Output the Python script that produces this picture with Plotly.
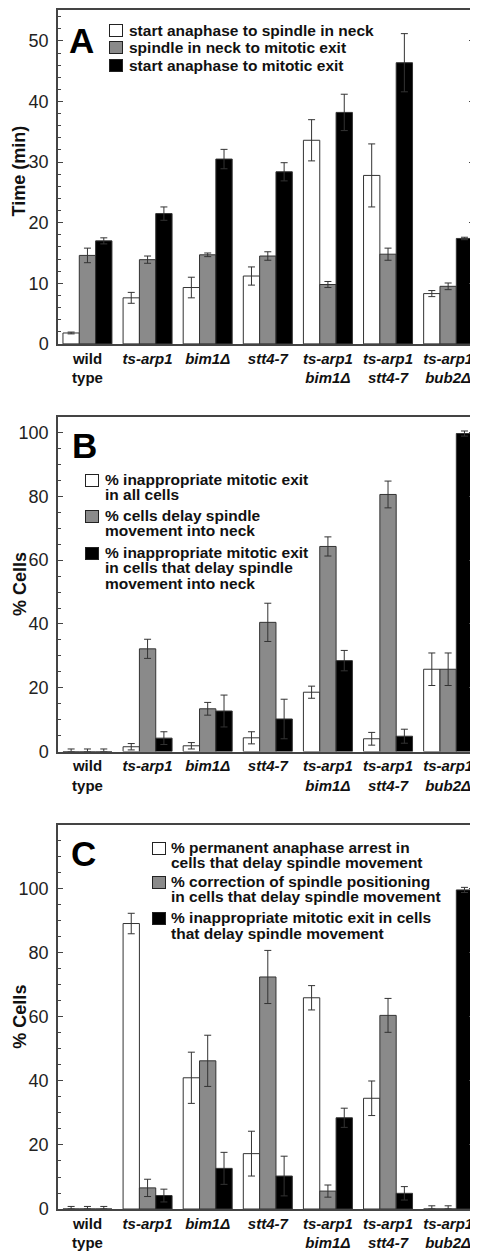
import plotly.graph_objects as go

# ---------------- data ----------------
categories = ["wild type", "ts-arp1", "bim1Δ", "stt4-7",
              "ts-arp1 bim1Δ", "ts-arp1 stt4-7", "ts-arp1 bub2Δ"]
tick_text = ["<b>wild<br>type</b>", "<b><i>ts-arp1</i></b>", "<b><i>bim1Δ</i></b>",
             "<b><i>stt4-7</i></b>", "<b><i>ts-arp1<br>bim1Δ</i></b>",
             "<b><i>ts-arp1<br>stt4-7</i></b>", "<b><i>ts-arp1<br>bub2Δ</i></b>"]

# Panel A: time (min)
a_white = [1.8, 7.6, 9.3, 11.2, 33.6, 27.8, 8.3]
a_white_err = [0.15, 0.9, 1.7, 1.5, 3.4, 5.2, 0.5]
a_gray = [14.6, 13.9, 14.7, 14.5, 9.8, 14.8, 9.5]
a_gray_err = [1.2, 0.6, 0.3, 0.7, 0.5, 1.0, 0.55]
a_black = [17.0, 21.5, 30.5, 28.4, 38.2, 46.4, 17.4]
a_black_err = [0.5, 1.1, 1.6, 1.5, 3.0, 4.8, 0.2]
a_legend = ["start anaphase to spindle in neck",
            "spindle in neck to mitotic exit",
            "start anaphase to mitotic exit"]

# Panel B: % cells
b_white = [0, 1.5, 1.8, 4.3, 18.6, 4.0, 25.8]
b_white_err = [0.8, 1.0, 1.0, 1.9, 1.9, 2.0, 5.1]
b_gray = [0, 32.2, 13.4, 40.5, 64.3, 80.6, 25.8]
b_gray_err = [0.8, 3.0, 2.0, 6.0, 3.0, 4.2, 5.1]
b_black = [0, 4.2, 12.7, 10.2, 28.5, 4.8, 99.7]
b_black_err = [0.8, 2.0, 5.0, 6.2, 3.2, 2.2, 0.8]
b_legend = [["% inappropriate mitotic exit", "in all cells"],
            ["% cells delay spindle", "movement into neck"],
            ["% inappropriate mitotic exit", "in cells that delay spindle",
             "movement into neck"]]

# Panel C: % cells
c_white = [0, 89.2, 41.0, 17.3, 66.0, 34.6, 0]
c_white_err = [0.8, 3.2, 8.0, 7.0, 3.8, 5.4, 1.0]
c_gray = [0, 6.6, 46.3, 72.5, 5.6, 60.5, 0]
c_gray_err = [0.8, 2.7, 8.0, 8.3, 1.9, 5.3, 1.0]
c_black = [0, 4.2, 12.7, 10.3, 28.5, 4.9, 99.7]
c_black_err = [0.8, 2.0, 5.0, 6.2, 3.0, 2.1, 0.8]
c_legend = [["% permanent anaphase arrest in", "cells that delay spindle movement"],
            ["% correction of spindle positioning", "in cells that delay spindle movement"],
            ["% inappropriate mitotic exit in cells", "that delay spindle movement"]]

fill_colors = ["#ffffff", "#8a8a8a", "#000000"]
y_titles = ["Time (min)", "% Cells", "% Cells"]
panel_letters = ["A", "B", "C"]

# ---------------- layout geometry ----------------
# The page has an 8px body margin, so figure coords = page coords - 8.
OFF = 8
W, H = 478 - OFF, 1251 - OFF
L, R, T, B = 58 - OFF, 4, 0, 40
PW, PH = W - L - R, H - T - B


def px(x_page):
    return (x_page - OFF - L) / PW


def py(y_page):
    return (H - B - (y_page - OFF)) / PH


FONT = "Liberation Sans, Arial, Helvetica, sans-serif"
LINE = "#444444"

fig = go.Figure()

panels = [
    ("", "y", [a_white, a_gray, a_black], [a_white_err, a_gray_err, a_black_err]),
    ("2", "y2", [b_white, b_gray, b_black], [b_white_err, b_gray_err, b_black_err]),
    ("3", "y3", [c_white, c_gray, c_black], [c_white_err, c_gray_err, c_black_err]),
]

for suffix, yref, series, errs in panels:
    for vals, err, col in zip(series, errs, fill_colors):
        fig.add_trace(go.Bar(
            x=categories, y=vals,
            xaxis="x" + suffix, yaxis=yref,
            marker=dict(color=col, line=dict(color="#333333", width=1)),
            error_y=dict(type="data", array=err,
                         arrayminus=[min(e, v) for e, v in zip(err, vals)],
                         color="#333333", thickness=1, width=3.5),
            showlegend=False,
        ))

domains = [[py(343), min(1.0, py(7))], [py(752), py(416)], [max(0.0, py(1211)), py(826)]]
yranges = [[0, 55.1], [0, 105], [0, 119.9]]
ydticks = [10, 20, 20]
yminor = [2, 5, 5]

layout = dict(
    width=W, height=H,
    margin=dict(l=L, r=R, t=T, b=B),
    paper_bgcolor="white", plot_bgcolor="white",
    barmode="group", bargap=0.185, bargroupgap=0,
    font=dict(family=FONT, color="#111111"),
    showlegend=False,
)

for i, suffix in enumerate(["", "2", "3"]):
    layout["xaxis" + suffix] = dict(
        type="category", range=[-0.49, 6.43],
        domain=[0, 1], anchor="y" + suffix,
        showline=True, mirror=True, linecolor=LINE, linewidth=1.5,
        ticks="", showgrid=False, zeroline=False,
        tickmode="array", tickvals=categories, ticktext=tick_text,
        tickfont=dict(size=15, family=FONT, color="#111111"),
    )
    layout["yaxis" + suffix] = dict(
        domain=domains[i], anchor="x" + suffix,
        range=yranges[i], dtick=ydticks[i], tick0=0,
        showline=True, mirror="ticks", linecolor=LINE, linewidth=1.5,
        ticks="inside", ticklen=5, tickcolor=LINE, tickwidth=1,
        minor=dict(ticks="inside", ticklen=3, dtick=yminor[i], tick0=0,
                   tickcolor=LINE, tickwidth=1),
        showgrid=False, zeroline=False,
        tickfont=dict(size=18, family=FONT, color="#222222"),
        ticklabelstandoff=4,
    )

fig.update_layout(**layout)

annotations = []


def letter(text, x, y):
    annotations.append(dict(text="<b>" + text + "</b>", x=px(x), y=py(y),
                            xref="paper", yref="paper", xanchor="left", yanchor="middle",
                            showarrow=False, font=dict(size=35, family=FONT, color="#000")))


def y_title(text, x, y):
    annotations.append(dict(text="<b>" + text + "</b>", x=px(x), y=py(y),
                            xref="paper", yref="paper", xanchor="center", yanchor="middle",
                            textangle=-90, showarrow=False,
                            font=dict(size=18, family=FONT, color="#111")))


def key_box(x, y, color):
    annotations.append(dict(text=" ", x=px(x), y=py(y), xref="paper", yref="paper",
                            xanchor="center", yanchor="middle", showarrow=False,
                            width=12, height=11, bgcolor=color, bordercolor="#222222",
                            borderwidth=1, borderpad=0, font=dict(size=8)))


def key_text(text, x, y):
    annotations.append(dict(text="<b>" + text + "</b>", x=px(x), y=py(y),
                            xref="paper", yref="paper", xanchor="left", yanchor="middle",
                            showarrow=False, font=dict(size=15.5, family=FONT, color="#111")))


# axis titles (page coordinates of their centres)
for title, (tx, ty) in zip(y_titles, [(19, 170), (20, 584), (20, 1018)]):
    y_title(title, tx, ty)

# Panel letters
for ltr, (lx, ly) in zip(panel_letters, [(67, 39), (70, 445), (69, 854)]):
    letter(ltr, lx, ly)

# Panel A legend
for row_y, label, col in zip([28.5, 45.5, 63.5], a_legend, fill_colors):
    key_box(116, row_y, col)
    key_text(label, 127, row_y)

# Panel B legend
for start_y, lines, col in zip([479, 515, 552], b_legend, fill_colors):
    key_box(92, start_y + 1, col)
    for k, line in enumerate(lines):
        key_text(line, 103, start_y + k * 15.5)

# Panel C legend
for start_y, lines, col in zip([848, 882, 919], c_legend, fill_colors):
    key_box(159, start_y + 1, col)
    for k, line in enumerate(lines):
        key_text(line, 169, start_y + k * 15.5)

fig.update_layout(annotations=annotations)

fig.write_html("out.html")
